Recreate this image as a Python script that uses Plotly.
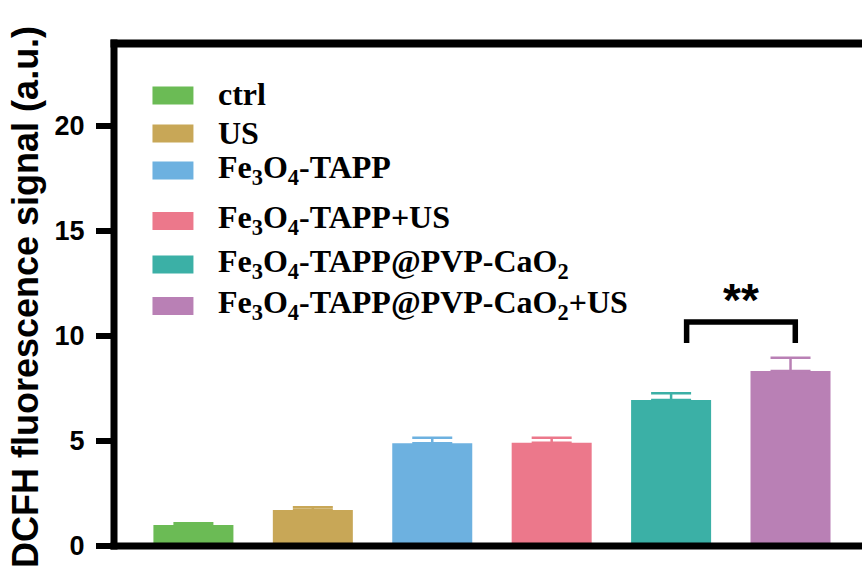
import plotly.graph_objects as go

# Group labels (legend text, HTML subscripts for chemical formulas)
groups = [
    "ctrl",
    "US",
    "Fe<sub>3</sub>O<sub>4</sub>-TAPP",
    "Fe<sub>3</sub>O<sub>4</sub>-TAPP+US",
    "Fe<sub>3</sub>O<sub>4</sub>-TAPP@PVP-CaO<sub>2</sub>",
    "Fe<sub>3</sub>O<sub>4</sub>-TAPP@PVP-CaO<sub>2</sub>+US",
]
# Mean DCFH fluorescence signal and SD per group
means = [1.00, 1.71, 4.89, 4.92, 6.95, 8.33]
errors = [0.08, 0.14, 0.27, 0.24, 0.32, 0.64]
colors = ["#6BBB55", "#C8A757", "#6DB1E0", "#EC788B", "#3BB0A6", "#B980B5"]
y_ticks = [0, 5, 10, 15, 20]

# significance bracket between the last two groups
sig_pair = (4.13, 5.04)
sig_y_top = 10.67
sig_y_bottom = 9.67
sig_label = "**"

W, H = 862, 570
M_L, M_T, M_B = 113.5, 42, 24
PW = W - M_L
PH = H - M_T - M_B


def px_x(px):
    return (px - M_L) / PW


def px_y(py):
    return (H - M_B - py) / PH


fig = go.Figure()
for i, (name, m, e, c) in enumerate(zip(groups, means, errors, colors)):
    fig.add_trace(go.Bar(
        x=[i], y=[m], width=0.67, marker=dict(color=c, line=dict(width=0)),
        error_y=dict(type="data", array=[e], arrayminus=[0], symmetric=False,
                     color=c, thickness=2.5, width=20),
        name=name, showlegend=False,
    ))

shapes = []
# frame: left and top edges, baseline
shapes.append(dict(type="rect", xref="paper", yref="paper", x0=px_x(M_L - 3.5), x1=px_x(M_L + 3.5),
                   y0=px_y(H - M_B + 3.5), y1=px_y(M_T - 2.5), fillcolor="black", line=dict(width=0)))
shapes.append(dict(type="rect", xref="paper", yref="paper", x0=px_x(M_L - 3.5), x1=1.01,
                   y0=px_y(M_T + 5.5), y1=px_y(M_T - 2.5), fillcolor="black", line=dict(width=0)))
shapes.append(dict(type="rect", xref="paper", yref="paper", x0=px_x(M_L - 3.5), x1=1.01,
                   y0=px_y(H - M_B + 3.5), y1=px_y(H - M_B - 3.5), fillcolor="black", line=dict(width=0)))

# bracket
x0, x1 = sig_pair
shapes.append(dict(type="path", xref="x", yref="y",
                   path=f"M {x0},{sig_y_bottom} L {x0},{sig_y_top} L {x1},{sig_y_top} L {x1},{sig_y_bottom}",
                   line=dict(color="black", width=5.5)))

# legend swatches
legend_rows = [95.5, 133.5, 170.5, 221, 264.5, 306]
for yc, c in zip(legend_rows, colors):
    shapes.append(dict(type="rect", xref="paper", yref="paper",
                       x0=px_x(152), x1=px_x(193), y0=px_y(yc + 9), y1=px_y(yc - 9),
                       fillcolor=c, line=dict(width=0)))

annotations = []
for yc, name in zip(legend_rows, groups):
    annotations.append(dict(xref="paper", yref="paper", x=px_x(216), y=px_y(yc - 1),
                            xanchor="left", yanchor="middle", showarrow=False, text=name,
                            font=dict(family="Liberation Serif", size=32, color="black", weight="bold")))

annotations.append(dict(xref="x", yref="y", x=(x0 + x1) / 2, y=sig_y_top, yanchor="bottom",
                        yshift=-6, showarrow=False, text=sig_label,
                        font=dict(family="Liberation Sans", size=46, color="black", weight="bold")))

annotations.append(dict(xref="paper", yref="paper", x=0, y=px_y(297), xshift=-89, xanchor="center",
                        yanchor="middle", textangle=-90, showarrow=False,
                        text="DCFH fluorescence signal (a.u.)",
                        font=dict(family="Liberation Sans", size=36, color="black", weight="bold")))

fig.update_layout(
    width=W, height=H,
    margin=dict(l=M_L, r=0, t=M_T, b=M_B, pad=0),
    paper_bgcolor="white", plot_bgcolor="white",
    barmode="overlay",
    shapes=shapes, annotations=annotations,
    xaxis=dict(range=[-0.665, -0.665 + PW / 119.5], showticklabels=False, showgrid=False,
               zeroline=False, showline=False, ticks=""),
    yaxis=dict(range=[0, 24], tickvals=y_ticks, ticks="outside", ticklen=17, tickwidth=6,
               tickcolor="black", showgrid=False, zeroline=False, showline=False,
               ticklabelstandoff=6,
               tickfont=dict(family="Liberation Sans", size=27, color="black", weight="bold")),
)

fig.write_html("out.html", config={"displayModeBar": False})
